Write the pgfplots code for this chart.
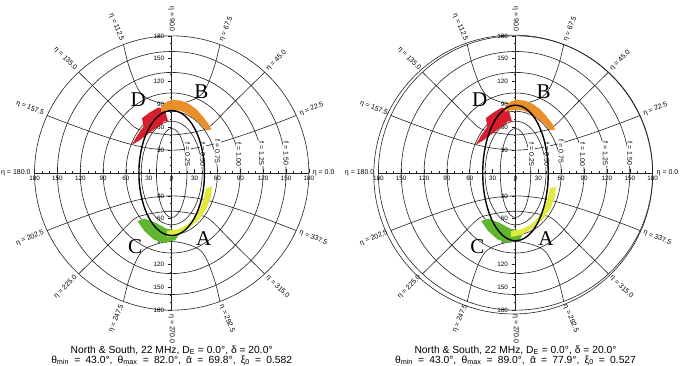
\documentclass[border=0pt]{standalone}
\usepackage{fontspec}
\setmainfont{Liberation Sans}
\newfontfamily\seriffont{Liberation Serif}
\usepackage{pgfplots}
\pgfplotsset{compat=1.18}
\definecolor{cA}{RGB}{226,234,62}
\definecolor{cB}{RGB}{234,142,42}
\definecolor{cC}{RGB}{96,182,46}
\definecolor{cD}{RGB}{216,30,46}
\definecolor{gridc}{RGB}{35,35,35}

\pgfplotstableread{
x y
-14 87
-6 94
2 96
12 95
22 91
32 84
41 74
48 65
52 57
45 56
38 64
30 71
20 78
10 82
0 83
-8 82
-14 80
}\patchB
\pgfplotstableread{
x y
-39 72
-28 80
-17.5 86
-9 83
-4.5 67
-10 68
-15 63
-30 52
-42 43
-52.5 36.7
-46 48
-37 61
}\patchD
\pgfplotstableread{
x y
53 -18
52 -30
46 -46
36 -61
22 -73
8 -81
-6 -84
-6 -76
8 -74
20 -68
30 -58
38 -45
43 -30
45 -20
}\patchA
\pgfplotstableread{
x y
-45 -63
-35 -60
-20 -66
-7 -73
5 -75
10 -80
5 -88
-10 -92
-24 -87
-36 -76
}\patchC

\tikzset{gl/.style={draw=gridc, line width=0.6pt}}

\newcommand{\polargrid}{%
  \draw[gl] (0,0) circle[radius=180];
  \foreach \a/\b in {150/159.5,120/132,90/105,60/81,40/68,20/58.5}
    \draw[gl] (0,0) ellipse[x radius=\a, y radius=\b];
  \foreach \s in {1,-1} {
    \draw[gl] plot[smooth] coordinates {(-163.4,\s*75.5) (-140,\s*66.4) (-100,\s*51.9) (-60,\s*39.3) (-30,\s*32.6) (0,\s*30) (30,\s*32.6) (60,\s*39.3) (100,\s*51.9) (140,\s*66.4) (163.4,\s*75.5)};
    \draw[gl] plot[smooth] coordinates {(-122,\s*132.3) (-81,\s*92) (-50,\s*61) (-35,\s*55) (-20,\s*52) (0,\s*50) (20,\s*52) (35,\s*55) (50,\s*61) (81,\s*92) (122,\s*132.3)};
    \draw[gl] plot[smooth] coordinates {(-63.3,\s*168.5) (-57,\s*143) (-48,\s*118) (-40,\s*104) (-30,\s*97) (-15,\s*92) (0,\s*90) (15,\s*92) (30,\s*97) (40,\s*104) (48,\s*118) (57,\s*143) (63.3,\s*168.5)};
  }
  \foreach \ang/\txt/\rot/\anc in {0/0.0/0/west, 24.8/22.5/22.5/west, 47.3/45.0/45/west, 69.4/67.5/67.5/west,
      90/90.0/-90/east, 110.6/112.5/-67.5/east, 132.7/135.0/-45/east, 155.2/157.5/-22.5/east, 180/180.0/0/east,
      204.8/202.5/22.5/east, 227.3/225.0/45/east, 249.4/247.5/67.5/east, 270/270.0/-90/west,
      290.6/292.5/-67.5/west, 312.7/315.0/-45/west, 335.2/337.5/-22.5/west}
    \node[font=\fontsize{7}{8}\selectfont, rotate=\rot, anchor=\anc, inner sep=0pt] at (\ang:185) {η = \txt};
  \foreach \xx/\yy/\t in {21/24/0.25, 41/24/0.50, 60/28/0.75, 88/24/1.00, 118/26/1.25, 150/26/1.50}
    \node[font=\fontsize{7}{8}\selectfont, rotate=-90, fill=white, inner sep=0.6pt] at (\xx,\yy) {f = \t};
}

\pgfplotsset{polar/.style={
  x=0.762pt, y=0.762pt, anchor=center,
  xmin=-180, xmax=180, ymin=-180, ymax=180,
  axis lines=middle, axis line style={-, line width=0.6pt, draw=gridc},
  clip=false,
  xtick={-180,-150,...,180}, ytick={-180,-150,...,180},
  xticklabels={180,150,120,90,60,30,0,30,60,90,120,150,180},
  yticklabels={180,150,120,90,60,30,0,30,60,90,120,150,180},
  minor xtick={-170,-160,...,170}, minor ytick={-170,-160,...,170},
  major tick length=4pt, minor tick length=2pt,
  tick style={draw=gridc, line width=0.6pt},
  xtick align=inside, ytick align=outside,
  ticklabel style={font=\fontsize{6.3}{7}\selectfont},
}}

\newcommand{\capA}[1]{North \& South, 22 MHz, D\textsubscript{E} = 0.0°, δ = 20.0°}
\newcommand{\capB}[3]{\spaceskip=5.2pt plus 1pt θ\textsubscript{min} = 43.0°, θ\textsubscript{max} = #1°, \=α = #2°, ξ\textsubscript{0} = #3}

\begin{document}
\begin{tikzpicture}
\path[use as bounding box] (0,0) rectangle (684pt,365pt);
\fill[white] (0,0) rectangle (684pt,365pt);

% ---------- left panel ----------
\begin{scope}[shift={(171.7pt,192pt)}, x=0.762pt, y=0.762pt]
  \polargrid
\end{scope}
\begin{axis}[polar, at={(171.7pt,192pt)}]
  \addplot[fill=cC, draw=none] table {\patchC} -- cycle;
  \addplot[fill=cA, draw=none] table {\patchA} -- cycle;
  \addplot[fill=cD, draw=none] table {\patchD} -- cycle;
  \addplot[fill=cB, draw=none] table {\patchB} -- cycle;
  \addplot[black, line width=1.4pt, smooth] coordinates {
    (43,0) (42.4,14.2) (40.4,28.0) (37.2,41.0) (32.9,52.7) (27.6,62.8) (21.5,71.0) (14.7,77.1) (7.5,80.8) (0,82)
    (-7.5,80.8) (-14.7,77.1) (-21.5,71.0) (-27.6,62.8) (-32.9,52.7) (-37.2,41.0) (-40.4,28.0) (-42.4,14.2) (-43,0)
    (-42.4,-14.2) (-40.4,-28.0) (-37.2,-41.0) (-32.9,-52.7) (-27.6,-62.8) (-21.5,-71.0) (-14.7,-77.1) (-7.5,-80.8) (0,-82)
    (7.5,-80.8) (14.7,-77.1) (21.5,-71.0) (27.6,-62.8) (32.9,-52.7) (37.2,-41.0) (40.4,-28.0) (42.4,-14.2) (43,0)};
  \node[font=\fontsize{6.3}{7}\selectfont, anchor=north, inner sep=1pt] at (axis cs:0,-3) {0};
  \node[font=\seriffont\fontsize{21}{21}\selectfont] at (axis cs:-44,96) {D};
  \node[font=\seriffont\fontsize{21}{21}\selectfont] at (axis cs:39,107) {B};
  \node[font=\seriffont\fontsize{21}{21}\selectfont] at (axis cs:42,-86) {A};
  \node[font=\seriffont\fontsize{21}{21}\selectfont] at (axis cs:-48,-97) {C};
\end{axis}

% ---------- right panel ----------
\begin{scope}[shift={(515.5pt,192pt)}, x=0.762pt, y=0.762pt]
  \polargrid
  \draw[gl] (-3,-2) circle[radius=183];
\end{scope}
\begin{axis}[polar, at={(515.5pt,192pt)}]
  \addplot[fill=cC, draw=none] table {\patchC} -- cycle;
  \addplot[fill=cA, draw=none] table {\patchA} -- cycle;
  \addplot[fill=cD, draw=none] table {\patchD} -- cycle;
  \addplot[fill=cB, draw=none] table {\patchB} -- cycle;
  \addplot[black, line width=1.4pt, smooth] coordinates {
    (43,0) (42.4,15.5) (40.4,30.4) (37.2,44.5) (32.9,57.2) (27.6,68.2) (21.5,77.1) (14.7,83.6) (7.5,87.6) (0,89)
    (-7.5,87.6) (-14.7,83.6) (-21.5,77.1) (-27.6,68.2) (-32.9,57.2) (-37.2,44.5) (-40.4,30.4) (-42.4,15.5) (-43,0)
    (-42.4,-15.5) (-40.4,-30.4) (-37.2,-44.5) (-32.9,-57.2) (-27.6,-68.2) (-21.5,-77.1) (-14.7,-83.6) (-7.5,-87.6) (0,-89)
    (7.5,-87.6) (14.7,-83.6) (21.5,-77.1) (27.6,-68.2) (32.9,-57.2) (37.2,-44.5) (40.4,-30.4) (42.4,-15.5) (43,0)};
  \node[font=\fontsize{6.3}{7}\selectfont, anchor=north, inner sep=1pt] at (axis cs:0,-3) {0};
  \node[font=\seriffont\fontsize{21}{21}\selectfont] at (axis cs:-47,96) {D};
  \node[font=\seriffont\fontsize{21}{21}\selectfont] at (axis cs:37,107) {B};
  \node[font=\seriffont\fontsize{21}{21}\selectfont] at (axis cs:40,-86) {A};
  \node[font=\seriffont\fontsize{21}{21}\selectfont] at (axis cs:-50,-97) {C};
\end{axis}

% ---------- captions ----------
\node[anchor=base, font=\fontsize{10.3}{12}\selectfont, inner sep=0pt] at (171.7pt,12pt) {\capA{}};
\node[anchor=base, font=\fontsize{10.3}{12}\selectfont, inner sep=0pt] at (171.7pt,2pt) {\capB{82.0}{69.8}{0.582}};
\node[anchor=base, font=\fontsize{10.3}{12}\selectfont, inner sep=0pt] at (515.5pt,12pt) {\capA{}};
\node[anchor=base, font=\fontsize{10.3}{12}\selectfont, inner sep=0pt] at (515.5pt,2pt) {\capB{89.0}{77.9}{0.527}};
\end{tikzpicture}
\end{document}
